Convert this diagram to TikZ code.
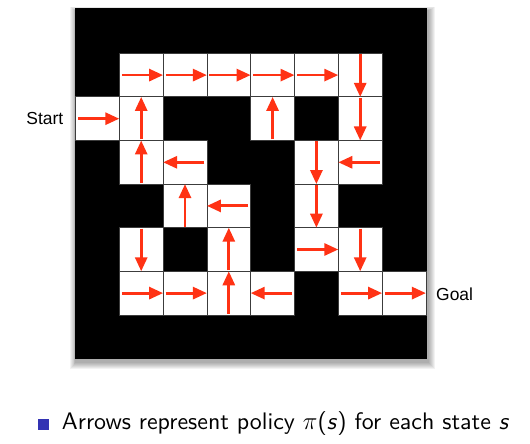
\documentclass[tikz,border=0pt]{standalone}
\usepackage{fontspec}
\newfontfamily\helv{Liberation Sans}
\newfontfamily\capfont{lmsans10-regular}[Extension=.otf,ItalicFont=lmsans10-oblique]
\usetikzlibrary{arrows.meta}
\definecolor{polred}{RGB}{255,50,20}
\definecolor{beamerblue}{RGB}{51,51,179}
\definecolor{gridgray}{RGB}{60,60,60}
\begin{document}
\begin{tikzpicture}[x=1bp,y=-1bp,
  cell/.style={draw=gridgray,line width=0.8bp,fill=white,minimum width=43.8bp,minimum height=43.6bp,inner sep=0pt,outer sep=0pt},
  pol/.style={draw=polred,line width=2.8bp,-{Triangle[length=14bp,width=12bp]}},
  lbl/.style={font=\helv\fontsize{17.5}{20}\selectfont,inner sep=0pt}]
\useasboundingbox[fill=white] (0,0) rectangle (530,444);
% soft drop shadow
\foreach \i in {1,...,7}{
  \fill[black,opacity=0.05] ({76-\i*0.8},{11-\i*0.6}) rectangle ({428+\i},{362+\i});
}
% maze background
\fill[black] (75,8.5) rectangle (427,359);
% free cells
\foreach \c/\r in {1/1,2/1,3/1,4/1,5/1,6/1,
                   0/2,1/2,4/2,6/2,
                   1/3,2/3,5/3,6/3,
                   2/4,3/4,5/4,
                   1/5,3/5,5/5,6/5,
                   1/6,2/6,3/6,4/6,6/6,7/6}{
  \node[cell] (c\c\r) at ({97.4+43.8*\c},{31.5+43.6*\r}) {};
}
% policy arrows
\foreach \n in {c11,c21,c31,c41,c51,c02,c55,c16,c26,c66,c76}{
  \draw[pol] ([xshift=2.5bp]\n.west) -- (\n.east);
}
\foreach \n in {c23,c63,c34,c46}{
  \draw[pol] ([xshift=-2.5bp]\n.east) -- (\n.west);
}
\foreach \n in {c12,c42,c13,c24,c35,c36}{
  \draw[pol] ([yshift=1bp]\n.south) -- (\n.north);
}
\foreach \n in {c61,c62,c53,c54,c15,c65}{
  \draw[pol] ([yshift=-1bp]\n.north) -- (\n.south);
}
% labels
\node[lbl,anchor=east] (start) at (63.5,119) {Start};
\node[lbl,anchor=west] (goal) at (436,294.5) {Goal};
% caption
\node[fill=beamerblue,minimum size=11bp,inner sep=0pt] (bullet) at (43.4,424.2) {};
\node[anchor=base west,inner sep=0pt,font=\capfont\fontsize{24}{28}\selectfont] (caption) at (61.7,429.5) {Arrows represent policy $\pi$(\textit{s}) for each state \textit{s}};
\end{tikzpicture}
\end{document}
